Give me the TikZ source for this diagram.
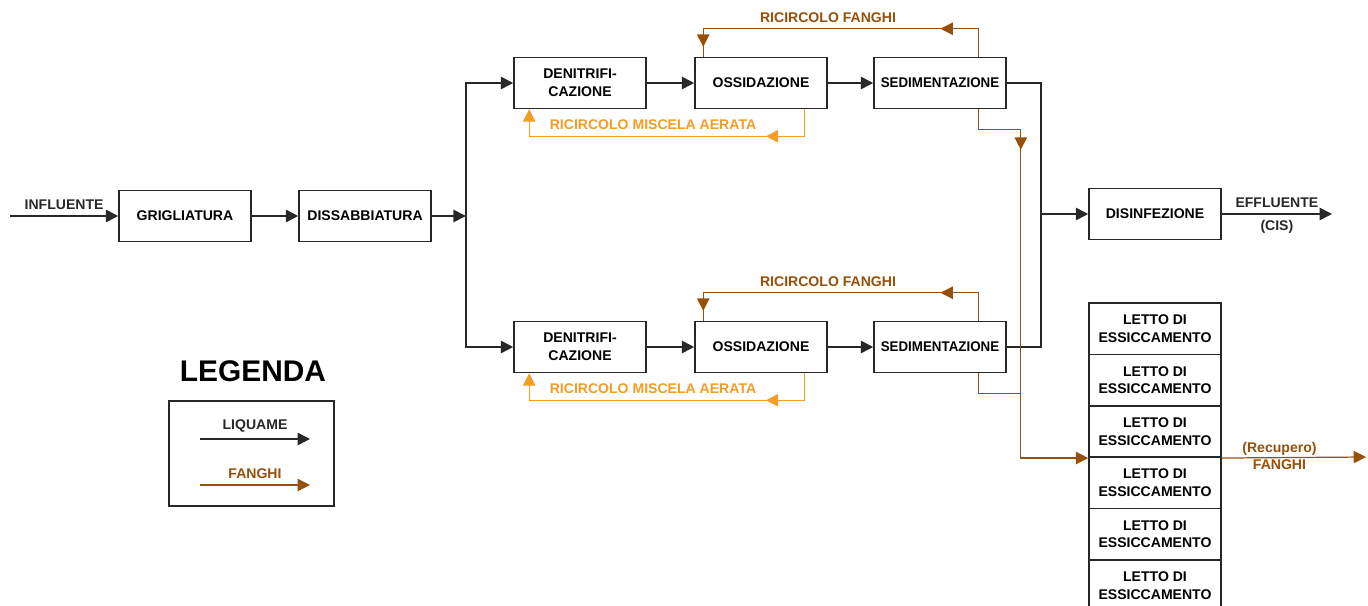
\documentclass[tikz,border=0pt]{standalone}
\usepackage{fontspec}
\setmainfont{Liberation Sans}
\usetikzlibrary{positioning, arrows.meta, calc, decorations.markings}
\definecolor{DEBlack}{RGB}{40,40,40}
\definecolor{DEBrown}{RGB}{150,80,10}
\definecolor{DEOrange}{RGB}{243,156,38}

\begin{document}
\begin{tikzpicture}[x=0.02cm, y=-0.02cm,
      blocco/.style={rectangle, draw=DEBlack, line width=0.9pt, fill=white,
                     minimum width=2.64cm, minimum height=1.02cm, inner sep=1pt,
                     align=center, font=\fontsize{8}{10}\selectfont\bfseries},
      letto/.style={blocco, minimum height=1.03cm},
      liq/.style={-{Triangle[length=7pt, width=7pt]}, line width=0.9pt, DEBlack},
      liqn/.style={line width=0.9pt, DEBlack},
      fan/.style={line width=0.7pt, DEBrown},
      mis/.style={line width=0.7pt, DEOrange},
      tip/.style={-{Triangle[length=7pt, width=7pt]}},
      midone/.style={postaction={decorate}, decoration={markings,
                     mark=at position #1 with {\arrow{Triangle[length=7pt, width=7pt]}}}},
      midtwo/.style 2 args={postaction={decorate}, decoration={markings,
                     mark=at position #1 with {\arrow{Triangle[length=7pt, width=7pt]}},
                     mark=at position #2 with {\arrow{Triangle[length=7pt, width=7pt]}}}},
      lbl/.style={font=\fontsize{8}{10}\selectfont\bfseries, align=center}
    ]
    \useasboundingbox (0,0) rectangle (1368,605);

    % Pretrattamenti
    \node[blocco] (grig) at (185,216) {GRIGLIATURA};
    \node[blocco] (diss) at (365,216) {DISSABBIATURA};
    \coordinate (inf) at (10,216);
    \draw[liq] (inf) -- node[lbl, above] {INFLUENTE} (grig.west);
    \draw[liq] (grig) -- (diss);
    \coordinate (div) at ([xshift=0.68cm]diss.east);
    \draw[liq] (diss) -- (div);

    % Linee biologiche (due linee in parallelo)
    \foreach \i/\y in {1/83, 2/347} {
      \node[blocco] (den\i) at (580,\y) {DENITRIFI-\\CAZIONE};
      \node[blocco] (oss\i) at (761,\y) {OSSIDAZIONE};
      \node[blocco, inner sep=0pt] (sed\i) at (940,\y) {\scalebox{0.95}[1]{SEDIMENTAZIONE}};
      \draw[liq] (div) |- (den\i);
      \draw[liq] (den\i) -- (oss\i);
      \draw[liq] (oss\i) -- (sed\i);
      % ricircoli
      \draw[fan, midtwo={0.2}{0.97}] ([xshift=-0.56cm]sed\i.north east)
            -- ++(0,-28) -| ([xshift=0.18cm]oss\i.north west);
      \node[lbl, DEBrown] at (828,\y-65) {RICIRCOLO FANGHI};
      \draw[mis, tip, midone=0.2] ([xshift=-0.46cm]oss\i.south east)
            -- ++(0,27) -| ([xshift=0.32cm]den\i.south west);
      \node[lbl, DEOrange] at (653,\y+42) {RICIRCOLO MISCELA AERATA};
    }

    % Disinfezione e scarico
    \node[blocco] (dis) at (1155,214) {DISINFEZIONE};
    \coordinate (giunz) at ([xshift=-0.94cm]dis.west);
    \draw[liqn] (sed1) -| (giunz);
    \draw[liqn] (sed2) -| (giunz);
    \draw[liq] (giunz) -- (dis);
    \coordinate (eff) at (1332,214);
    \draw[liq] (dis) -- node[lbl, above] {EFFLUENTE} node[lbl, below] {(CIS)} (eff);

    % Letti di essiccamento
    \foreach \i in {1,...,6} {
      \node[letto] (letto\i) at (1155,277.3+51.4*\i) {LETTO DI\\ESSICCAMENTO};
    }
    \draw[fan, tip, midone=0.18] ([xshift=-0.56cm]sed1.south east)
          -- ++(0,20) -- ++(42,0) |- (letto3.south west);
    \draw[fan] ([xshift=-0.56cm]sed2.south east) -- ++(0,20) -- ++(42,0);
    \coordinate (rec) at (1366,457);
    \draw[fan, tip] (letto3.south east)
          -- node[lbl, DEBrown, above, pos=0.4, inner sep=1pt] {(Recupero)}
             node[lbl, DEBrown, below, pos=0.4, inner sep=1pt] {FANGHI} (rec);

    % Legenda
    \node[font=\fontsize{17}{20}\selectfont\bfseries] (legtit) at (253,371) {LEGENDA};
    \node[draw=DEBlack, line width=0.9pt, minimum width=3.3cm,
          minimum height=2.1cm] (legbox) at (251.5,453.5) {};
    \coordinate (liqa) at (200,439);
    \coordinate (liqb) at (310,439);
    \draw[liq] (liqa) -- node[lbl, above] {LIQUAME} (liqb);
    \coordinate (fana) at (200,485);
    \coordinate (fanb) at (310,485);
    \draw[fan, tip] (fana) -- node[lbl, DEBrown, above] {FANGHI} (fanb);
  \end{tikzpicture}
\end{document}
